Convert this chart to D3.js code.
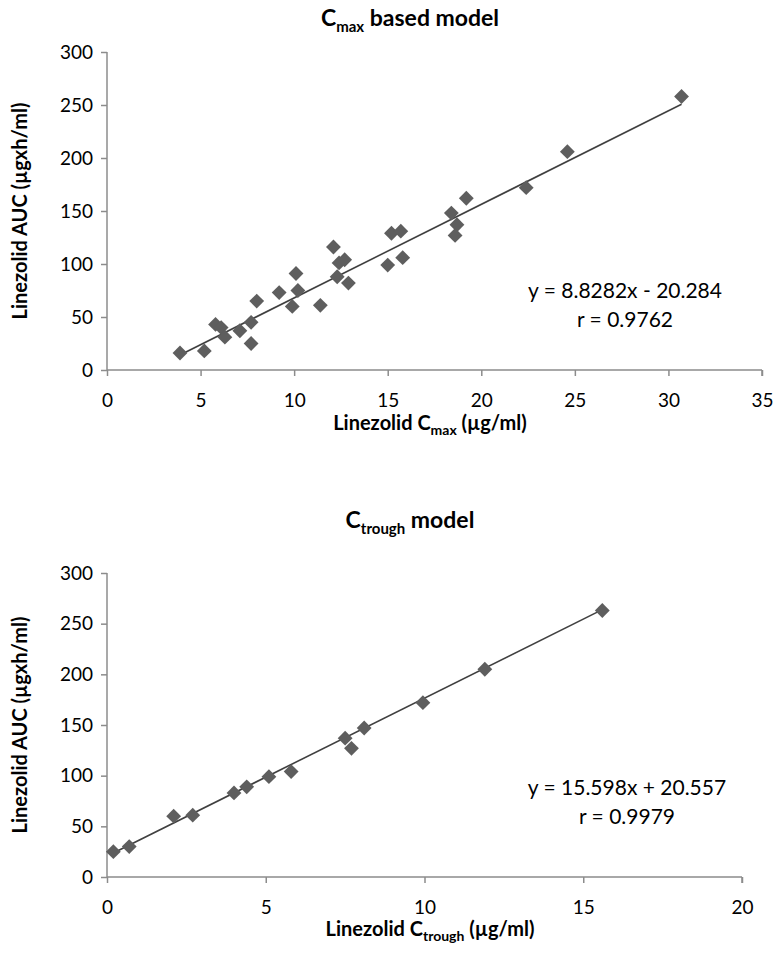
<!DOCTYPE html>
<html>
<head>
<meta charset="utf-8">
<script src="https://cdn.jsdelivr.net/npm/d3@7"></script>
<style>
  body { margin: 0; background: #fff; }
  svg { display: block; }
  text { font-family: Lato, "Open Sans", sans-serif; fill: #000; }
</style>
</head>
<body>
<svg id="chart" width="774" height="969"></svg>
<script>
// ---- Data ----
const cmaxX = [3.9, 5.2, 5.8, 6.1, 6.3, 7.1, 7.7, 7.7, 8.0, 9.2, 10.1, 10.2, 9.9, 11.4, 12.1, 12.4, 12.3, 12.7, 12.9, 15.2, 15.7, 15.0, 15.8, 18.4, 19.2, 18.7, 18.6, 22.4, 24.6, 30.7];
const cmaxY = [16, 18, 43, 40, 31, 37, 45, 25, 65, 73, 91, 75, 60, 61, 116, 101, 88, 104, 82, 129, 131, 99, 106, 148, 162, 137, 127, 172, 206, 258];
const troughX = [0.2, 0.7, 2.1, 2.7, 4.0, 4.4, 5.1, 5.8, 7.5, 7.7, 8.1, 9.95, 11.9, 15.6];
const troughY = [25, 30, 60, 61, 83, 89, 99, 104, 137, 127, 147, 172, 205, 263];
const cmaxXTicks = [0, 5, 10, 15, 20, 25, 30, 35];
const troughXTicks = [0, 5, 10, 15, 20];
const yTicks = [0, 50, 100, 150, 200, 250, 300];
const cmaxFit = { slope: 8.8282, intercept: -20.284, label: "y = 8.8282x - 20.284", r: "r = 0.9762" };
const troughFit = { slope: 15.598, intercept: 20.557, label: "y = 15.598x + 20.557", r: "r = 0.9979" };

const svg = d3.select("#chart");
const axisColor = "#8c8c8c";
const markColor = "#5e5e5e";

function panel(opts) {
  const g = svg.append("g");
  const x = d3.scaleLinear().domain(opts.xDomain).range([107, opts.xRight]);
  const y = d3.scaleLinear().domain([0, 300]).range([opts.yBottom, opts.yTop]);

  // title
  const t = g.append("text").attr("x", opts.titleX).attr("y", opts.titleY)
    .attr("text-anchor", "middle").attr("font-weight", "bold").attr("font-size", 23);
  t.append("tspan").text("C");
  t.append("tspan").attr("font-size", 15).attr("dy", 6).text(opts.sub);
  t.append("tspan").attr("dy", -6).text(opts.titleRest);

  // axes
  const xAxis = g.append("g").attr("transform", `translate(0,${opts.yBottom})`)
    .call(d3.axisBottom(x).tickValues(opts.xTicks).tickSize(6).tickPadding(18).tickFormat(d3.format("d")));
  const yAxis = g.append("g").attr("transform", `translate(107,0)`)
    .call(d3.axisLeft(y).tickValues(yTicks).tickSize(6).tickPadding(8).tickFormat(d3.format("d")));
  [xAxis, yAxis].forEach(a => {
    a.select(".domain").attr("stroke", axisColor).attr("stroke-width", 1.5);
    a.selectAll(".tick line").attr("stroke", axisColor).attr("stroke-width", 1.5);
    a.selectAll(".tick text").attr("font-size", 19).attr("fill", "#000")
      .style("font-family", "Lato, 'Open Sans', sans-serif");
  });
  xAxis.select(".domain").attr("d", `M${x.range()[0]},0H${x.range()[1]}M${x.range()[1]},0V6`);
  yAxis.select(".domain").attr("d", `M0,${y.range()[0]}V${y.range()[1]}`);

  // axis labels
  g.append("text").attr("transform", `translate(27,${(opts.yBottom + opts.yTop) / 2}) rotate(-90)`)
    .attr("text-anchor", "middle").attr("font-weight", "bold").attr("font-size", 20)
    .text("Linezolid AUC (µgxh/ml)");
  const xl = g.append("text").attr("x", 430).attr("y", opts.xLabelY)
    .attr("text-anchor", "middle").attr("font-weight", "bold").attr("font-size", 20);
  xl.append("tspan").text("Linezolid C");
  xl.append("tspan").attr("font-size", 14).attr("dy", 5).text(opts.sub);
  xl.append("tspan").attr("dy", -5).text(" (µg/ml)");

  // regression line
  const xs = opts.xs, ys = opts.ys;
  const x0 = d3.min(xs), x1 = d3.max(xs);
  g.append("line")
    .attr("x1", x(x0)).attr("y1", y(opts.fit.slope * x0 + opts.fit.intercept))
    .attr("x2", x(x1)).attr("y2", y(opts.fit.slope * x1 + opts.fit.intercept))
    .attr("stroke", "#404040").attr("stroke-width", 1.6);

  // points
  const sym = d3.symbol().type(d3.symbolSquare).size(110);
  g.selectAll("path.pt").data(xs.map((v, i) => [v, ys[i]])).join("path")
    .attr("class", "pt")
    .attr("d", sym)
    .attr("transform", d => `translate(${x(d[0])},${y(d[1])}) rotate(45)`)
    .attr("fill", markColor);

  // equation
  g.append("text").attr("x", opts.eqX).attr("y", opts.eqY).attr("text-anchor", "middle")
    .attr("font-size", 21).text(opts.fit.label);
  g.append("text").attr("x", opts.eqX).attr("y", opts.eqY + 29).attr("text-anchor", "middle")
    .attr("font-size", 21).text(opts.fit.r);
}

panel({
  xDomain: [0, 35], xRight: 762, yTop: 52, yBottom: 370,
  xTicks: cmaxXTicks, xs: cmaxX, ys: cmaxY, fit: cmaxFit,
  sub: "max", titleRest: " based model", titleX: 410, titleY: 26,
  xLabelY: 430, eqX: 625, eqY: 298
});
panel({
  xDomain: [0, 20], xRight: 742, yTop: 573, yBottom: 877,
  xTicks: troughXTicks, xs: troughX, ys: troughY, fit: troughFit,
  sub: "trough", titleRest: " model", titleX: 410, titleY: 528,
  xLabelY: 936, eqX: 627, eqY: 795
});
</script>
</body>
</html>
